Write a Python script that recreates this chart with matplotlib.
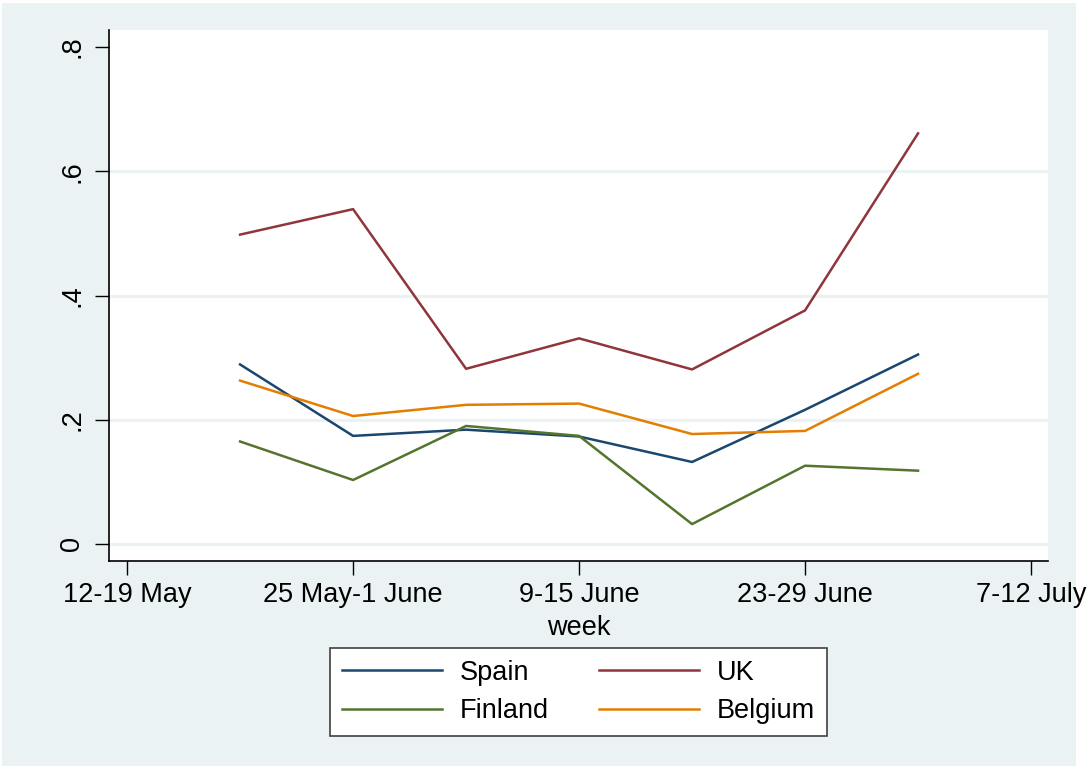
import matplotlib
matplotlib.use("Agg")
import matplotlib.pyplot as plt
from matplotlib.patches import Rectangle

weeks = [21, 22, 23, 24, 25, 26, 27]
spain = [0.289, 0.174, 0.184, 0.173, 0.132, 0.216, 0.305]
uk = [0.498, 0.539, 0.282, 0.331, 0.281, 0.376, 0.661]
finland = [0.165, 0.103, 0.190, 0.174, 0.032, 0.126, 0.118]
belgium = [0.263, 0.206, 0.224, 0.226, 0.177, 0.182, 0.274]

xtick_pos = [20, 22, 24, 26, 28]
xtick_labels = ["12-19 May", "25 May-1 June", "9-15 June", "23-29 June", "7-12 July"]
ytick_pos = [0, 0.2, 0.4, 0.6, 0.8]
ytick_labels = ["0", ".2", ".4", ".6", ".8"]

plt.rcParams['font.family'] = ['Liberation Sans', 'DejaVu Sans']
fs = 19.5

fig = plt.figure(figsize=(10.9, 7.69), dpi=100)
fig.patch.set_facecolor('white')
fig.patches.append(Rectangle((2/1090, 3/769), 1074/1090, 763/769, transform=fig.transFigure,
                             facecolor='#EAF2F3', edgecolor='none', zorder=-10))

ax = fig.add_axes([109/1090, 1 - 561/769, (1048 - 109)/1090, (561 - 30)/769])
ax.set_facecolor('white')

lw = 1.8
l_spain, = ax.plot(weeks, spain, color='#1A476F', lw=lw, label='Spain', zorder=3)
l_uk, = ax.plot(weeks, uk, color='#90353B', lw=lw, label='UK', zorder=3)
l_fin, = ax.plot(weeks, finland, color='#55752F', lw=lw, label='Finland', zorder=3)
l_bel, = ax.plot(weeks, belgium, color='#E37E00', lw=lw, label='Belgium', zorder=3)

for yv in [0, 0.2, 0.4, 0.6]:
    ax.axhline(yv, color='#EAF2F3', lw=2.2, zorder=1)

ax.set_xlim(19.84, 28.15)
ax.set_ylim(-0.0274, 0.8274)
ax.set_xticks(xtick_pos)
ax.set_xticklabels(xtick_labels, fontsize=fs)
ax.set_yticks(ytick_pos)
ax.set_yticklabels(ytick_labels, fontsize=fs, rotation=90, va='center')
ax.tick_params(axis='x', direction='out', length=10, width=1, color='black', pad=5)
ax.tick_params(axis='y', direction='out', length=10, width=1, color='black', pad=7)

for s in ['top', 'right']:
    ax.spines[s].set_visible(False)
for s in ['left', 'bottom']:
    ax.spines[s].set_color('black')
    ax.spines[s].set_linewidth(1.2)

ax.set_xlabel('week', fontsize=fs, labelpad=5)

handles = [l_spain, l_fin, l_uk, l_bel]
labels = ['Spain', 'Finland', 'UK', 'Belgium']
leg = fig.legend(handles, labels, ncol=2, loc='center',
                 bbox_to_anchor=(578.5/1090, 1 - 692/769), fontsize=fs,
                 frameon=True, fancybox=False, edgecolor='#404040', facecolor='white',
                 framealpha=1, handlelength=3.7, handletextpad=0.65, columnspacing=1.85,
                 borderpad=0.45, labelspacing=0.45, borderaxespad=0)
leg.get_frame().set_linewidth(1.2)

fig.savefig('out.png', dpi=100)
